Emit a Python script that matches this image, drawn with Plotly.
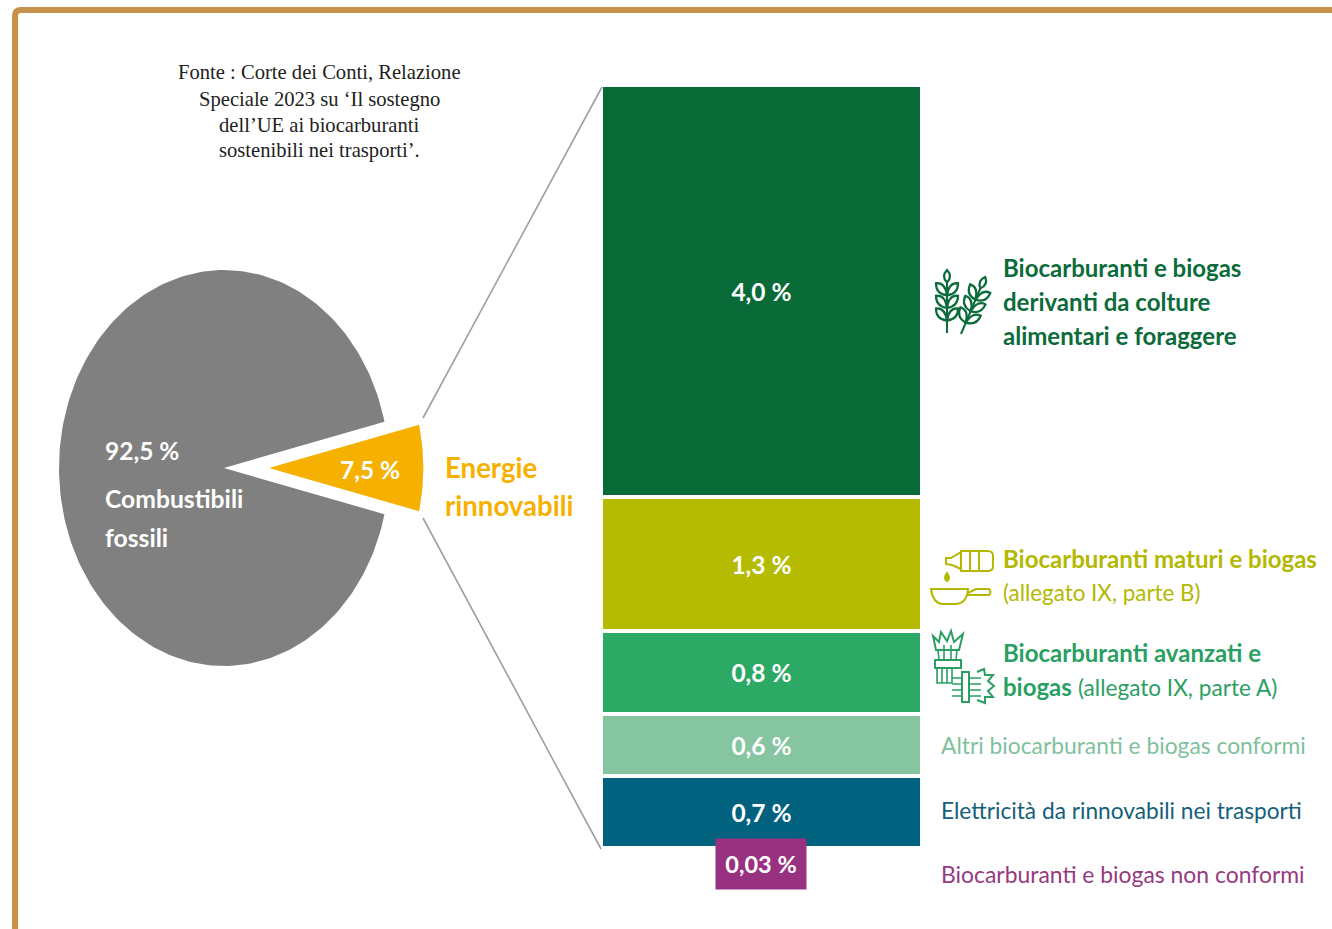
import math
import numpy as np
import plotly.graph_objects as go

# Shares of energy in EU transport (per cent)
pie_labels = ["Combustibili fossili", "Energie rinnovabili"]
pie_shares = [92.5, 7.5]
pie_text = ["92,5 %", "7,5 %"]

# Breakdown of the renewable share
bar_names = [
    "Biocarburanti e biogas derivanti da colture alimentari e foraggere",
    "Biocarburanti maturi e biogas (allegato IX, parte B)",
    "Biocarburanti avanzati e biogas (allegato IX, parte A)",
    "Altri biocarburanti e biogas conformi",
    "Elettricità da rinnovabili nei trasporti",
]
bar_values = [4.0, 1.3, 0.8, 0.6, 0.7]
bar_text = ["4,0 %", "1,3 %", "0,8 %", "0,6 %", "0,7 %"]
bar_colors = ["#086a36", "#b5bb00", "#2ca965", "#85c6a1", "#00627f"]

small_name = "Biocarburanti e biogas non conformi"
small_value = 0.03
small_text = "0,03 %"
small_color = "#993181"

source_lines = [
    "Fonte : Corte dei Conti, Relazione",
    "Speciale 2023 su ‘Il sostegno",
    "dell’UE ai biocarburanti",
    "sostenibili nei trasporti’.",
]

W, H = 1332, 929
SANS = "Lato, sans-serif"
SERIF = "Liberation Serif, serif"
GREY = "#808080"
AMBER = "#f6b100"
FRAME = "#c8914b"

fig = go.Figure()

# Exploded pie on an elliptical unit circle: the slice angles come from the shares
half = math.pi * pie_shares[1] / 100
t = np.linspace(half, 2 * math.pi - half, 240)
fig.add_trace(go.Scatter(
    x=np.r_[0, np.cos(t), 0], y=np.r_[0, np.sin(t), 0],
    mode="lines", line=dict(width=0), fill="toself", fillcolor=GREY,
    name=pie_labels[0], hoverinfo="name", xaxis="x", yaxis="y",
))
t = np.linspace(-half, half, 30)
pull, scale = 0.273, 0.935
fig.add_trace(go.Scatter(
    x=np.r_[pull, pull + scale * np.cos(t), pull], y=np.r_[0, scale * np.sin(t), 0],
    mode="lines", line=dict(width=0), fill="toself", fillcolor=AMBER,
    name=pie_labels[1], hoverinfo="name", xaxis="x", yaxis="y",
))

# Stacked column of the renewable share
for name, value, label, color in zip(bar_names, bar_values, bar_text, bar_colors):
    fig.add_trace(go.Bar(
        x=[0], y=[value], width=1, name=name, marker=dict(color=color, line=dict(color="white", width=4)),
        text=[f"<b>{label}</b>"], textposition="inside", insidetextanchor="middle", textangle=0,
        textfont=dict(family=SANS, size=24.5, color="white"), constraintext="none",
        hoverinfo="name", xaxis="x2", yaxis="y2",
    ))
fig.add_trace(go.Bar(
    x=[0], y=[small_value], width=0.28, name=small_name, marker=dict(color=small_color, line=dict(width=0)),
    hoverinfo="name", xaxis="x2", yaxis="y2",
))


def note(x, y, text, size=24, color="white", family=SANS, anchor="left", **kw):
    fig.add_annotation(x=x, y=y, xref="x3", yref="y3", text=text, showarrow=False,
                       xanchor=anchor, yanchor="middle",
                       font=dict(family=family, size=size, color=color), **kw)


# Source note
for y, line in zip([72, 99, 125, 150], source_lines):
    note(319, y, line, size=20.6, color="#222222", family=SERIF, anchor="center")

# Pie labels
note(103, 450, f"<b>{pie_text[0]}</b>", size=24.5)
note(103, 498, "<b>Combustibili</b>", size=24.7)
note(103, 537, "<b>fossili</b>", size=24.7)
note(370, 469, f"<b>{pie_text[1]}</b>", size=24.5, anchor="center")
note(443, 467, "<b>Energie</b>", size=27.6, color=AMBER)
note(443, 505, "<b>rinnovabili</b>", size=27.6, color=AMBER)

# Column captions
DARK, OLIVE, GREEN, LIGHT, TEAL, PURPLE = "#0b6b3a", "#b3b800", "#2b9f63", "#7fc19d", "#14607a", "#953a80"
for y, line in zip([267, 301, 335], ["Biocarburanti e biogas", "derivanti da colture", "alimentari e foraggere"]):
    note(1001, y, f"<b>{line}</b>", color=DARK)
note(1001, 558, "<b>Biocarburanti maturi e biogas</b>", color=OLIVE)
note(1001, 592, "(allegato IX, parte B)", size=22.4, color=OLIVE)
note(1001, 652, "<b>Biocarburanti avanzati e</b>", color=GREEN)
note(1001, 686, '<b>biogas</b> <span style="font-size:22.6px">(allegato IX, parte A)</span>', color=GREEN)
note(939, 745, "Altri biocarburanti e biogas conformi", size=22.8, color=LIGHT)
note(939, 810, "Elettricità da rinnovabili nei trasporti", size=22.7, color=TEAL)
note(939, 874, small_name, size=22.9, color=PURPLE)

# Boxed label of the smallest share
fig.add_annotation(x=761, y=864, xref="x3", yref="y3", text=f"<b>{small_text}</b>", showarrow=False,
                   xanchor="center", yanchor="middle", width=88, height=48, align="center", valign="middle",
                   bgcolor=small_color, font=dict(family=SANS, size=23.5, color="white"))

shapes = []


def stroke(path, color, width=2, fill=None):
    shapes.append(dict(type="path", path=path, xref="x3", yref="y3", layer="above",
                       line=dict(color=color, width=width), fillcolor=fill or "rgba(0,0,0,0)"))


# Frame, open towards the right and bottom edges
stroke("M 15 940 L 15 16 Q 15 10 21 10 L 1345 10", FRAME, 6)

# Leader lines from the amber slice to the column
stroke("M 423 418 L 602 87", "#a0a0a0", 1.6)
stroke("M 423 518 L 601 849", "#a0a0a0", 1.6)


def wheat(x0, y0, length, tilt, color):
    """One ear of wheat growing from (x0, y0), tilted clockwise by `tilt` degrees."""
    a = math.radians(tilt)

    def pt(u, v):
        return f"{x0 + u * math.cos(a) + v * math.sin(a):.1f} {y0 + u * math.sin(a) - v * math.cos(a):.1f}"

    stroke(f"M {pt(0, 0)} L {pt(0, length - 12)}", color)
    for v in (length * 0.2, length * 0.4, length * 0.6):
        for s in (-1, 1):
            stroke(f"M {pt(0, v)} Q {pt(s * 11, v + 1)} {pt(s * 11, v + 12)} "
                   f"Q {pt(s * 2, v + 13)} {pt(0, v)} Z", color, 2.2)
    stroke(f"M {pt(0, length * 0.8)} Q {pt(-6, length * 0.9)} {pt(0, length)} "
           f"Q {pt(6, length * 0.9)} {pt(0, length * 0.8)} Z", color, 2.2)


wheat(947, 333, 63, 0, DARK)
wheat(961, 334, 62, 23, DARK)

# Bottle pouring over a pan
stroke("M 961 551 L 988 551 Q 993 551 993 556 L 993 566 Q 993 571 988 571 L 961 571 Z", OLIVE)
stroke("M 970 551 L 970 571 M 979 551 L 979 571", OLIVE)
stroke("M 961 552 L 951 558 L 946 558 L 946 564 L 952 565 L 961 569", OLIVE)
stroke("M 947 573 Q 943 579 947 581 Q 951 579 947 573 Z", OLIVE, 2, OLIVE)
stroke("M 931 589 L 968 589 Q 967 604 955 604 L 942 604 Q 933 603 931 589 Z", OLIVE)
stroke("M 968 593 L 976 589 L 989 589 Q 992 592 989 595 L 976 595 L 967 595", OLIVE)

# Bundles of crop residues
stroke("M 933 636 L 939 642 L 941 632 L 947 641 L 951 631 L 954 642 L 963 634 L 959 650 L 936 650 Z", GREEN)
stroke("M 938 650 L 939 660 M 944 645 L 944 660 M 951 645 L 951 660 M 957 650 L 956 660", GREEN, 1.6)
stroke("M 935 660 L 961 660 L 961 668 L 935 668 Z", GREEN)
stroke("M 937 668 L 937 683 L 952 683 M 942 668 L 942 683 M 947 668 L 947 683 M 952 668 L 952 683", GREEN, 1.6)
stroke("M 962 672 L 969 672 L 969 702 L 962 702 Z", GREEN)
stroke("M 952 678 L 962 678 M 952 684 L 962 684 M 952 690 L 962 690 M 952 696 L 962 696", GREEN, 1.6)
stroke("M 969 678 L 981 678 M 969 684 L 981 684 M 969 690 L 981 690 M 969 696 L 981 696", GREEN, 1.6)
stroke("M 977 672 L 984 669 L 985 675 L 993 675 L 988 681 L 994 686 L 988 691 L 993 697 "
       "L 985 697 L 985 703 L 977 700", GREEN)

axis_off = dict(visible=False, fixedrange=True)
fig.update_layout(
    width=W, height=H, margin=dict(l=0, r=0, t=0, b=0), autosize=False,
    paper_bgcolor="white", plot_bgcolor="rgba(0,0,0,0)", showlegend=False,
    barmode="stack", bargap=0, font=dict(family=SANS), shapes=shapes,
    xaxis=dict(domain=[59 / W, 438.5 / W], range=[-1, 1.3], **axis_off),
    yaxis=dict(domain=[(H - 666) / H, (H - 270) / H], range=[-1, 1], **axis_off),
    xaxis2=dict(domain=[601 / W, 922 / W], range=[-0.5, 0.5], anchor="y2", **axis_off),
    yaxis2=dict(domain=[(H - 851) / H, (H - 85) / H], range=[7.43, 0], anchor="x2", **axis_off),
    xaxis3=dict(domain=[0, 1], range=[0, W], anchor="y3", **axis_off),
    yaxis3=dict(domain=[0, 1], range=[H, 0], anchor="x3", **axis_off),
)

fig.write_html("out.html")
